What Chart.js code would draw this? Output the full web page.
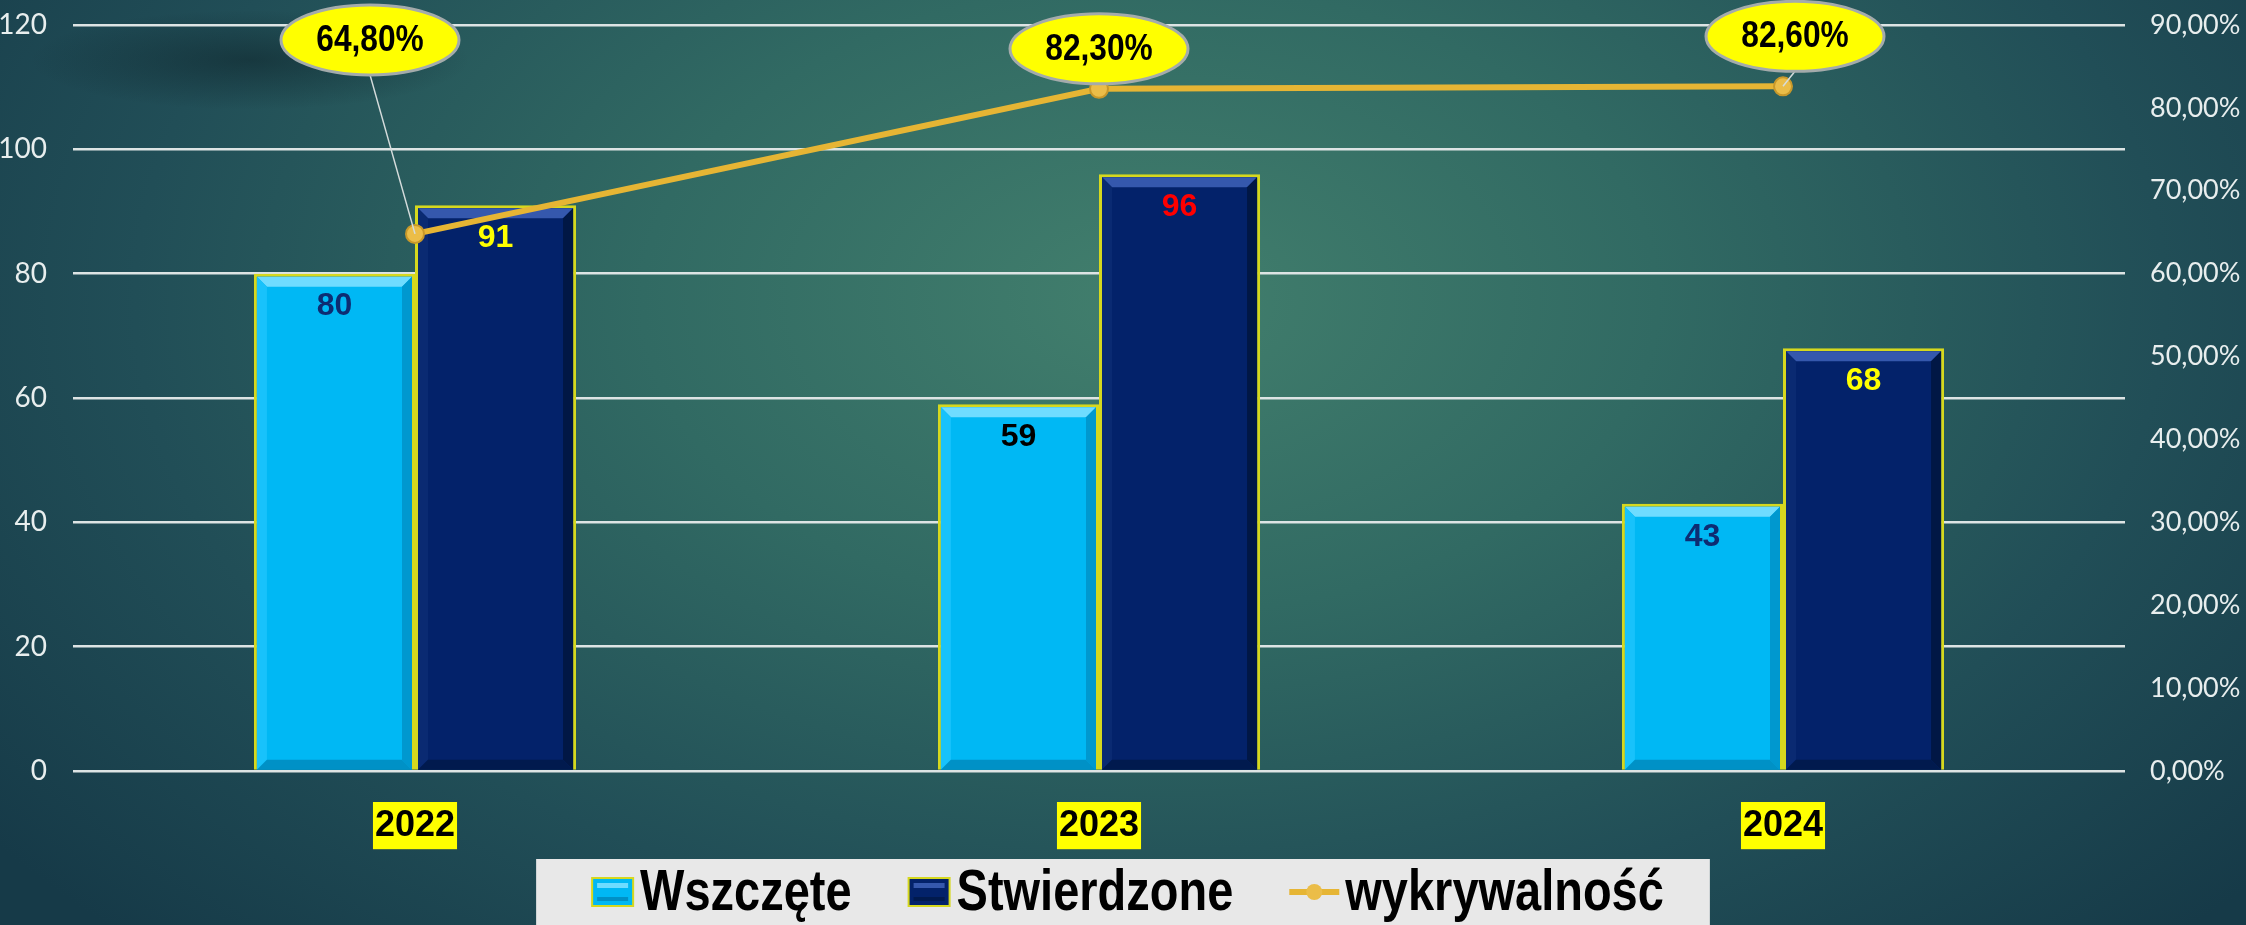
<!DOCTYPE html>
<html lang="pl">
<head>
<meta charset="utf-8">
<title>Wszczęte / Stwierdzone / wykrywalność</title>
<script src="https://cdn.jsdelivr.net/npm/chart.js@4.4.1/dist/chart.umd.min.js"></script>
<style>
  html, body { margin: 0; padding: 0; }
  body {
    width: 2246px; height: 925px; overflow: hidden;
    background:
      radial-gradient(ellipse 220px 50px at 250px 60px, rgba(12,32,38,0.5), rgba(12,32,38,0) 100%),
      radial-gradient(ellipse 1450px 900px at 1150px 300px, #427f6d 0%, #316a63 35%, #214e57 70%, #163a48 100%);
  }
  #wrap { position: relative; width: 2246px; height: 925px; }
</style>
</head>
<body>
<div id="wrap"><canvas id="chart"></canvas></div>
<script>
// lata
const years = ['2022', '2023', '2024'];
// liczba postepowan
const wszczete = [80, 59, 43];
const stwierdzone = [91, 96, 68];
// wykrywalnosc w %
const wykrywalnosc = [64.8, 82.3, 82.6];
// podzialki osi
const leftTicks = [0, 20, 40, 60, 80, 100, 120];
const rightTicks = [0, 10, 20, 30, 40, 50, 60, 70, 80, 90];

const pct = v => v.toFixed(2).replace('.', ',') + '%';

// squeezed text (the original font is a condensed one)
function squeezeText(ctx, text, x, y, sx, align) {
  const w = ctx.measureText(text).width * sx;
  const left = align === 'center' ? x - w / 2 : x;
  ctx.save();
  ctx.translate(left, y);
  ctx.scale(sx, 1);
  ctx.textAlign = 'left';
  ctx.fillText(text, 0, 0);
  ctx.restore();
  return w;
}

// bevel + value labels on the bars
const barDeco = {
  id: 'barDeco',
  afterDatasetDraw(chart, args) {
    const ds = chart.data.datasets[args.index];
    if (!ds.bevel) return;
    const ctx = chart.ctx;
    const c = ds.bevel;
    args.meta.data.forEach(bar => {
      const p = bar.getProps(['x', 'y', 'base', 'width'], true);
      const bw = 3, s = 10;
      const L = p.x - p.width / 2 + bw, R = p.x + p.width / 2 - bw;
      const T = p.y + bw, B = p.base;
      const poly = (pts, col) => {
        ctx.beginPath();
        ctx.moveTo(pts[0][0], pts[0][1]);
        pts.slice(1).forEach(q => ctx.lineTo(q[0], q[1]));
        ctx.closePath();
        ctx.fillStyle = col;
        ctx.fill();
      };
      ctx.save();
      poly([[L, T], [R, T], [R - s, T + s], [L + s, T + s]], c.top);
      poly([[L, T], [L + s, T + s], [L + s, B - s], [L, B]], c.left);
      poly([[R, T], [R - s, T + s], [R - s, B - s], [R, B]], c.right);
      poly([[L, B], [L + s, B - s], [R - s, B - s], [R, B]], c.bottom);
      ctx.restore();
    });
  },
  afterDatasetsDraw(chart) {
    const ctx = chart.ctx;
    chart.data.datasets.forEach((ds, di) => {
      if (!ds.valueColors) return;
      const meta = chart.getDatasetMeta(di);
      meta.data.forEach((bar, i) => {
        ctx.save();
        ctx.font = 'bold 32px "Liberation Sans", Arial, sans-serif';
        ctx.fillStyle = ds.valueColors[i];
        ctx.textAlign = 'center';
        ctx.textBaseline = 'middle';
        ctx.fillText(ds.data[i], bar.x, bar.y + 33);
        ctx.restore();
      });
    });
  }
};

// yellow ellipse callouts for the line
const callouts = {
  id: 'callouts',
  afterDatasetsDraw(chart, args, opts) {
    const ctx = chart.ctx;
    chart.data.datasets.forEach((ds, di) => {
      if (ds.type !== 'line') return;
      const meta = chart.getDatasetMeta(di);
      meta.data.forEach((pt, i) => {
        const off = opts.offsets[i];
        const cx = pt.x + off[0], cy = pt.y + off[1];
        const rx = 89, ry = 35;
        ctx.save();
        if (Math.hypot(pt.x - cx, pt.y - cy) > ry + 12) {
          ctx.strokeStyle = '#d5dcdc';
          ctx.lineWidth = 1.5;
          ctx.beginPath();
          ctx.moveTo(cx, cy + ry);
          ctx.lineTo(pt.x, pt.y);
          ctx.stroke();
        }
        ctx.beginPath();
        ctx.ellipse(cx, cy, rx, ry, 0, 0, Math.PI * 2);
        ctx.fillStyle = '#ffff00';
        ctx.fill();
        ctx.lineWidth = 3;
        ctx.strokeStyle = '#a4abab';
        ctx.stroke();
        ctx.font = 'bold 36px "Liberation Sans", sans-serif';
        ctx.fillStyle = '#000';
        ctx.textBaseline = 'middle';
        squeezeText(ctx, pct(ds.data[i]), cx, cy + 1, 0.88, 'center');
        ctx.restore();
      });
    });
  }
};

// legend on a light grey strip
const legendStrip = {
  id: 'legendStrip',
  afterDraw(chart) {
    const ctx = chart.ctx;
    const font = 'bold 58px "Liberation Sans", sans-serif';
    const sx = 0.81;
    ctx.save();
    ctx.font = font;
    const items = chart.data.datasets.map(ds => ({
      ds,
      mw: ds.type === 'line' ? 50 : 43,
      tw: ctx.measureText(ds.label).width * sx
    }));
    const gapMarker = 6, gapItem = 56, padL = 55, padR = 46;
    let total = 0;
    items.forEach((it, i) => { total += it.mw + gapMarker + it.tw + (i ? gapItem : 0); });
    const boxW = total + padL + padR;
    const boxX = (chart.width - boxW) / 2;
    const boxY = 859;
    ctx.fillStyle = '#e8e8e8';
    ctx.fillRect(boxX, boxY, boxW, chart.height - boxY + 2);
    const midY = 892;
    let x = boxX + padL;
    items.forEach((it, i) => {
      if (i) x += gapItem;
      const ds = it.ds;
      if (ds.type === 'line') {
        ctx.strokeStyle = ds.borderColor;
        ctx.lineWidth = 6;
        ctx.beginPath();
        ctx.moveTo(x, midY);
        ctx.lineTo(x + it.mw, midY);
        ctx.stroke();
        ctx.beginPath();
        ctx.arc(x + it.mw / 2, midY, 8, 0, Math.PI * 2);
        ctx.fillStyle = ds.pointBackgroundColor;
        ctx.fill();
      } else {
        ctx.fillStyle = ds.borderColor;
        ctx.fillRect(x, midY - 15, it.mw, 30);
        ctx.fillStyle = ds.backgroundColor;
        ctx.fillRect(x + 2, midY - 13, it.mw - 4, 26);
        ctx.fillStyle = ds.bevel.top;
        ctx.fillRect(x + 6, midY - 9, it.mw - 12, 5);
        ctx.fillStyle = ds.bevel.bottom;
        ctx.fillRect(x + 6, midY + 5, it.mw - 12, 4);
      }
      x += it.mw + gapMarker;
      ctx.fillStyle = '#000';
      ctx.textBaseline = 'middle';
      ctx.font = font;
      squeezeText(ctx, ds.label, x, midY + 2, sx, 'left');
      x += it.tw;
    });
    ctx.restore();
  }
};

const ctx = document.getElementById('chart');
const chart = new Chart(ctx, {
  data: {
    labels: years,
    datasets: [
      {
        type: 'bar',
        label: 'Wszczęte',
        data: wszczete,
        yAxisID: 'y',
        order: 1,
        backgroundColor: '#00b8f4',
        borderColor: '#d6d81e',
        borderWidth: 3,
        categoryPercentage: 0.471,
        barPercentage: 1,
        bevel: { top: '#6fdcff', left: '#18c2fb', right: '#0098cf', bottom: '#0091c6' },
        valueColors: ['#0d2c72', '#000000', '#0d2c72']
      },
      {
        type: 'bar',
        label: 'Stwierdzone',
        data: stwierdzone,
        yAxisID: 'y',
        order: 1,
        backgroundColor: '#03226a',
        borderColor: '#d6d81e',
        borderWidth: 3,
        categoryPercentage: 0.471,
        barPercentage: 1,
        bevel: { top: '#3558ad', left: '#0a2a72', right: '#011745', bottom: '#011a4e' },
        valueColors: ['#ffff00', '#ff0000', '#ffff00']
      },
      {
        type: 'line',
        label: 'wykrywalność',
        data: wykrywalnosc,
        yAxisID: 'y1',
        order: 0,
        borderColor: '#e6b534',
        borderWidth: 6,
        tension: 0,
        pointRadius: 9,
        pointBackgroundColor: '#ebbd48',
        pointBorderColor: '#c8982a',
        pointBorderWidth: 2
      }
    ]
  },
  options: {
    responsive: true,
    maintainAspectRatio: false,
    animation: false,
    events: [],
    layout: { padding: { top: 25, bottom: 66, left: 0, right: 0 } },
    plugins: {
      legend: { display: false },
      tooltip: { enabled: false },
      callouts: { offsets: [[-45, -194], [0, -40], [12, -50]] }
    },
    scales: {
      x: {
        grid: { display: false },
        border: { display: false },
        afterFit(s) { s.height = 88; },
        ticks: {
          color: '#000',
          font: { family: '"Liberation Sans", Arial, sans-serif', size: 36, weight: 'bold' },
          padding: 25,
          showLabelBackdrop: true,
          backdropColor: '#ffff00',
          backdropPadding: { x: 2, y: 2 }
        }
      },
      y: {
        position: 'left',
        min: 0,
        max: 120,
        afterBuildTicks(s) { s.ticks = leftTicks.map(v => ({ value: v })); },
        afterFit(s) { s.width = 73; },
        grid: { color: '#dde4e4', lineWidth: 2.5, drawTicks: true, tickLength: 26, tickColor: 'rgba(0,0,0,0)' },
        border: { display: false },
        ticks: {
          color: '#e8eeee',
          font: { family: 'Lato, "Open Sans", sans-serif', size: 28 },
          padding: 0
        }
      },
      y1: {
        position: 'right',
        min: 0,
        max: 90,
        afterBuildTicks(s) { s.ticks = rightTicks.map(v => ({ value: v })); },
        afterFit(s) { s.width = 121; },
        grid: { color: 'rgba(0,0,0,0)', drawTicks: true, tickLength: 25, tickColor: 'rgba(0,0,0,0)' },
        border: { display: false },
        ticks: {
          color: '#e8eeee',
          font: { family: 'Lato, "Open Sans", sans-serif', size: 27 },
          padding: 0,
          callback: v => pct(v)
        }
      }
    }
  },
  plugins: [barDeco, callouts, legendStrip]
});
</script>
</body>
</html>
